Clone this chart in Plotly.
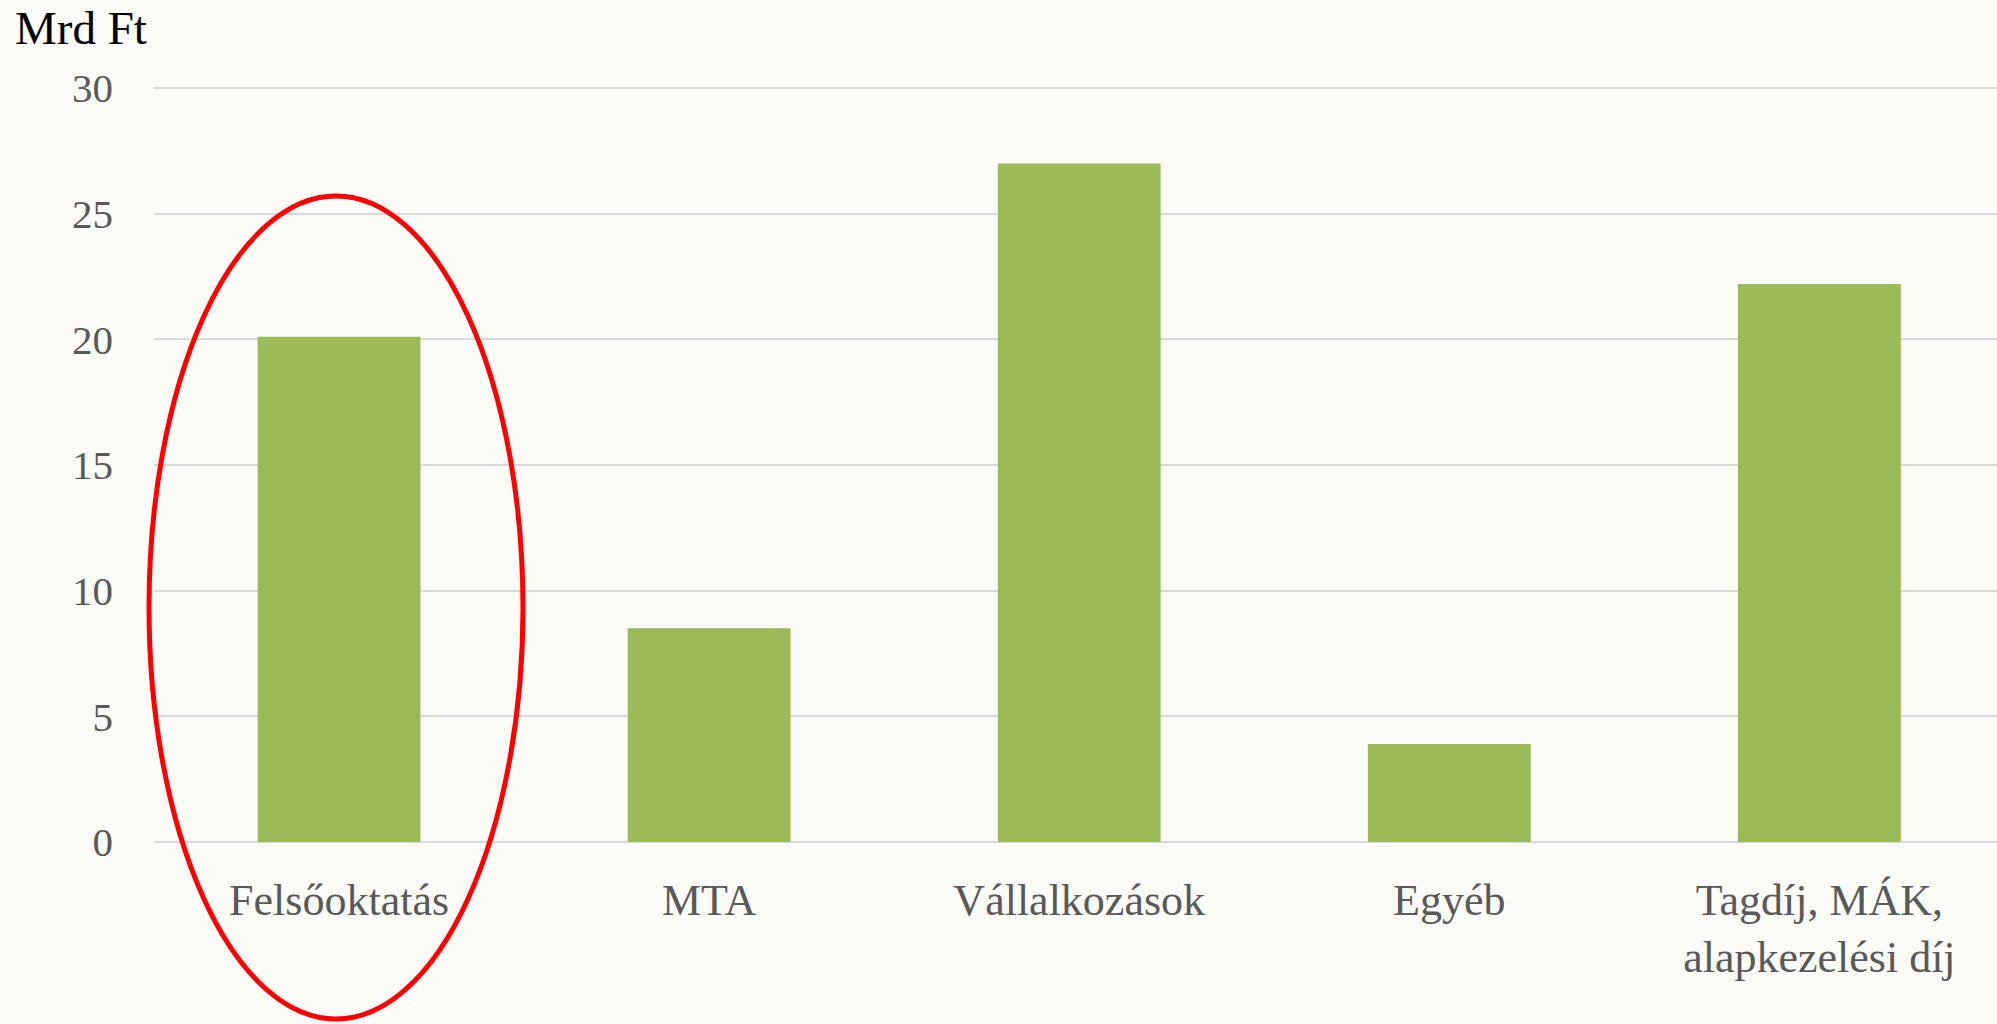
import plotly.graph_objects as go

categories = ["Felsőoktatás", "MTA", "Vállalkozások", "Egyéb", "Tagdíj, MÁK,<br>alapkezelési díj"]
values = [20.1, 8.5, 27.0, 3.9, 22.2]
y_ticks = [0, 5, 10, 15, 20, 25, 30]

W, H = 1997, 1024
left, right, top, bottom = 154, 0, 83, 182
plot_w = W - left - right
plot_h = H - top - bottom

fig = go.Figure(go.Bar(
    x=categories,
    y=values,
    marker=dict(color="#9BBB59", line=dict(width=0)),
    hoverinfo="x+y",
))

# red ellipse highlighting the first category (pixel box -> paper coords)
def px_x(p):
    return (p - left) / plot_w

def px_y(p):
    return (H - bottom - p) / plot_h

fig.add_shape(
    type="circle", xref="paper", yref="paper",
    x0=px_x(149), x1=px_x(523), y0=px_y(1019), y1=px_y(196),
    line=dict(color="#FF0000", width=5),
    layer="above",
)

fig.add_annotation(
    text="Mrd Ft", xref="paper", yref="paper",
    x=px_x(13), y=px_y(28), xanchor="left", yanchor="middle",
    showarrow=False,
    font=dict(family="Liberation Serif", size=47, color="#000000"),
)

fig.update_layout(
    width=W, height=H,
    margin=dict(l=left, r=right, t=top, b=bottom),
    paper_bgcolor="#FBFBF7",
    plot_bgcolor="#FBFBF7",
    bargap=0.56,
    showlegend=False,
    font=dict(family="Liberation Serif", color="#595959"),
)
fig.update_xaxes(
    type="category",
    range=[-0.5, 4.48],
    showgrid=False,
    showline=False,
    ticks="",
    ticklabelstandoff=28,
    tickfont=dict(size=44, color="#595959"),
)
fig.update_yaxes(
    range=[0, 30.2],
    tickvals=y_ticks,
    showgrid=True,
    gridcolor="#D9D9D9",
    gridwidth=2,
    zeroline=True,
    zerolinecolor="#D9D9D9",
    zerolinewidth=2,
    showline=False,
    ticks="",
    ticklabelstandoff=40,
    tickfont=dict(size=41, color="#595959"),
)

fig.write_html(
    "out.html",
    config={"displayModeBar": False},
    post_script="document.body.style.margin='0';document.body.style.background='#FBFBF7';",
)
